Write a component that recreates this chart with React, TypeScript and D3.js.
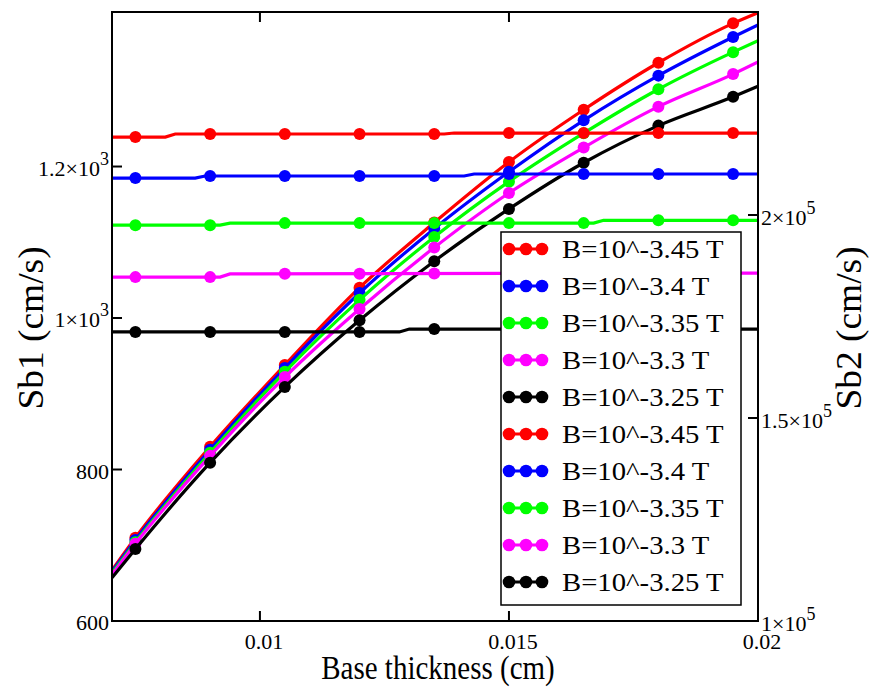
import React from "react";
import * as d3 from "d3";

// ---------- data ----------
const seriesNames = [
  "B=10^-3.45 T",
  "B=10^-3.4 T",
  "B=10^-3.35 T",
  "B=10^-3.3 T",
  "B=10^-3.25 T",
];
const seriesColors = ["#ff0000", "#0000ff", "#00ff00", "#ff00ff", "#000000"];

// Sb1 (left axis), rising curves
const sb1X = [0.00703, 0.0075, 0.009, 0.0105, 0.012, 0.0135, 0.015, 0.0165, 0.018, 0.0195, 0.02];
const sb1Red = [667, 710, 830, 938, 1040, 1126, 1206, 1275, 1337, 1389, 1403];
const sb1Blue = [665, 707, 826, 934, 1033, 1118, 1193, 1261, 1320, 1371, 1387];
const sb1Green = [663, 704, 822, 929, 1024, 1107, 1180, 1244, 1302, 1351, 1366];
const sb1Magenta = [661, 702, 818, 922, 1012, 1093, 1165, 1225, 1279, 1322, 1338];
const sb1Black = [657, 695, 809, 909, 997, 1075, 1144, 1205, 1254, 1292, 1306];
const sb1Series = [sb1Red, sb1Blue, sb1Green, sb1Magenta, sb1Black];
const sb1MarkerIdx = [1, 2, 3, 4, 5, 6, 7, 8, 9];

// Sb2 (right axis), nearly flat lines
const sb2RedX = [0.00703, 0.0081, 0.0083, 0.0137, 0.0139, 0.02];
const sb2RedY = [219200, 219200, 219950, 219950, 220190, 220190];
const sb2BlueX = [0.00703, 0.0087, 0.0089, 0.0141, 0.0143, 0.02];
const sb2BlueY = [209100, 209100, 209600, 209600, 210100, 210100];
const sb2GreenX = [0.00703, 0.0092, 0.0094, 0.0167, 0.0169, 0.02];
const sb2GreenY = [197500, 197500, 198000, 198000, 198700, 198700];
const sb2MagentaX = [0.00703, 0.0092, 0.0094, 0.02];
const sb2MagentaY = [184700, 184700, 185500, 185700];
const sb2BlackX = [0.00703, 0.0128, 0.013, 0.02];
const sb2BlackY = [171200, 171200, 171900, 171900];
const sb2Xs = [sb2RedX, sb2BlueX, sb2GreenX, sb2MagentaX, sb2BlackX];
const sb2Ys = [sb2RedY, sb2BlueY, sb2GreenY, sb2MagentaY, sb2BlackY];
const markerX = [0.0075, 0.009, 0.0105, 0.012, 0.0135, 0.015, 0.0165, 0.018, 0.0195];

const xTicks = [0.01, 0.015];
const xTickLabels = ["0.01", "0.015", "0.02"];
const xLabelVals = [0.01, 0.015, 0.02];
const yLeftTicks = [800, 1000, 1200];
const yLeftLabels = [
  { v: 600, m: "600", e: "" },
  { v: 800, m: "800", e: "" },
  { v: 1000, m: "1\u00d710", e: "3" },
  { v: 1200, m: "1.2\u00d710", e: "3" },
];
const yRightTicks = [150000, 200000];
const yRightLabels = [
  { v: 100000, m: "1\u00d710", e: "5" },
  { v: 150000, m: "1.5\u00d710", e: "5" },
  { v: 200000, m: "2\u00d710", e: "5" },
];

// ---------- layout ----------
const W = 874;
const H = 691;
const L = 112;
const R = 758;
const T = 12;
const B = 621;
const FONT = "Liberation Serif, Times New Roman, serif";

export default function App() {
  const x = d3.scaleLinear().domain([0.00703, 0.02]).range([L, R]);
  const yL = d3.scaleLinear().domain([600, 1404]).range([B, T]);
  const yR = d3.scaleLinear().domain([100000, 250000]).range([B, T]);

  const lineL = d3
    .line<[number, number]>()
    .x((d) => x(d[0]))
    .y((d) => yL(d[1]))
    .curve(d3.curveMonotoneX);
  const lineR = d3
    .line<[number, number]>()
    .x((d) => x(d[0]))
    .y((d) => yR(d[1]));

  const tickLen = 10;
  const legendRows = [0, 1, 2, 3, 4, 5, 6, 7, 8, 9];
  const ts = { fontFamily: FONT };

  return (
    <svg
      width={W}
      height={H}
      style={{ position: "absolute", left: 0, top: 0, background: "#fff", fontFamily: FONT }}
    >
      <rect x={0} y={0} width={W} height={H} fill="#fff" />
      <defs>
        <clipPath id="plotClip">
          <rect x={L} y={T - 1} width={R - L} height={B - T + 1} />
        </clipPath>
      </defs>

      <g clipPath="url(#plotClip)">
        {/* Sb1 rising curves */}
        {sb1Series.map((s, i) => (
          <g key={"s1" + i}>
            <path
              d={lineL(sb1X.map((xv, j) => [xv, s[j]] as [number, number])) || ""}
              fill="none"
              stroke={seriesColors[i]}
              strokeWidth={3.2}
            />
            {sb1MarkerIdx.map((j) => (
              <circle key={j} cx={x(sb1X[j])} cy={yL(s[j])} r={6} fill={seriesColors[i]} />
            ))}
          </g>
        ))}
        {/* Sb2 flat lines */}
        {sb2Xs.map((xs, i) => {
          const interp = d3.scaleLinear().domain(xs).range(sb2Ys[i]);
          return (
            <g key={"s2" + i}>
              <path
                d={lineR(xs.map((xv, j) => [xv, sb2Ys[i][j]] as [number, number])) || ""}
                fill="none"
                stroke={seriesColors[i]}
                strokeWidth={3.2}
              />
              {markerX.map((mx, j) => (
                <circle key={j} cx={x(mx)} cy={yR(interp(mx))} r={6} fill={seriesColors[i]} />
              ))}
            </g>
          );
        })}
      </g>

      {/* frame */}
      <rect x={L} y={T} width={R - L} height={B - T} fill="none" stroke="#000" strokeWidth={2} />

      {/* ticks */}
      {xTicks.map((t) => (
        <g key={"xt" + t}>
          <line x1={x(t)} x2={x(t)} y1={B} y2={B - tickLen} stroke="#000" strokeWidth={2} />
          <line x1={x(t)} x2={x(t)} y1={T} y2={T + tickLen} stroke="#000" strokeWidth={2} />
        </g>
      ))}
      {yLeftTicks.map((t) => (
        <line key={"yl" + t} x1={L} x2={L + tickLen} y1={yL(t)} y2={yL(t)} stroke="#000" strokeWidth={2} />
      ))}
      {yRightTicks.map((t) => (
        <line key={"yr" + t} x1={R - tickLen} x2={R} y1={yR(t)} y2={yR(t)} stroke="#000" strokeWidth={2} />
      ))}

      {/* tick labels */}
      {xLabelVals.map((v, i) => (
        <text key={"xl" + i} style={ts} x={x(v) + 4} y={649} fontSize={22} textAnchor="middle" fill="#000">
          {xTickLabels[i]}
        </text>
      ))}
      {yLeftLabels.map((d) => (
        <text key={"yll" + d.v} style={ts} x={109} y={yL(d.v) + 9} fontSize={22} textAnchor="end" fill="#000">
          {d.m}
          {d.e ? (
            <tspan fontSize={18} dy={-11}>
              {d.e}
            </tspan>
          ) : null}
        </text>
      ))}
      {yRightLabels.map((d) => (
        <text key={"yrl" + d.v} style={ts} x={761} y={yR(d.v) + 10} fontSize={22} textAnchor="start" fill="#000">
          {d.m}
          <tspan fontSize={18} dy={-11}>
            {d.e}
          </tspan>
        </text>
      ))}

      {/* axis titles */}
      <text
        style={ts}
        transform={`translate(438,679) scale(1,1.18)`}
        fontSize={29}
        textAnchor="middle"
        fill="#000"
      >
        Base thickness (cm)
      </text>
      <text
        style={ts}
        transform={`translate(43,328) rotate(-90) scale(1.07,1)`}
        fontSize={35}
        textAnchor="middle"
        fill="#000"
      >
        Sb1 (cm/s)
      </text>
      <text
        style={ts}
        transform={`translate(861,328) rotate(-90) scale(1.07,1)`}
        fontSize={35}
        textAnchor="middle"
        fill="#000"
      >
        Sb2 (cm/s)
      </text>

      {/* legend */}
      <rect x={501} y={232} width={240} height={373} fill="#fff" stroke="#000" strokeWidth={1.5} />
      {legendRows.map((i) => {
        const cy = 249 + i * 37;
        const c = seriesColors[i % 5];
        return (
          <g key={"lg" + i}>
            <line x1={504} x2={547} y1={cy} y2={cy} stroke={c} strokeWidth={3} />
            {[509, 526, 542].map((cx) => (
              <circle key={cx} cx={cx} cy={cy} r={6.3} fill={c} />
            ))}
            <text style={ts} transform={`translate(562,${cy + 9}) scale(1.15,1.05)`} fontSize={25} fill="#000">
              {seriesNames[i % 5]}
            </text>
          </g>
        );
      })}
    </svg>
  );
}
